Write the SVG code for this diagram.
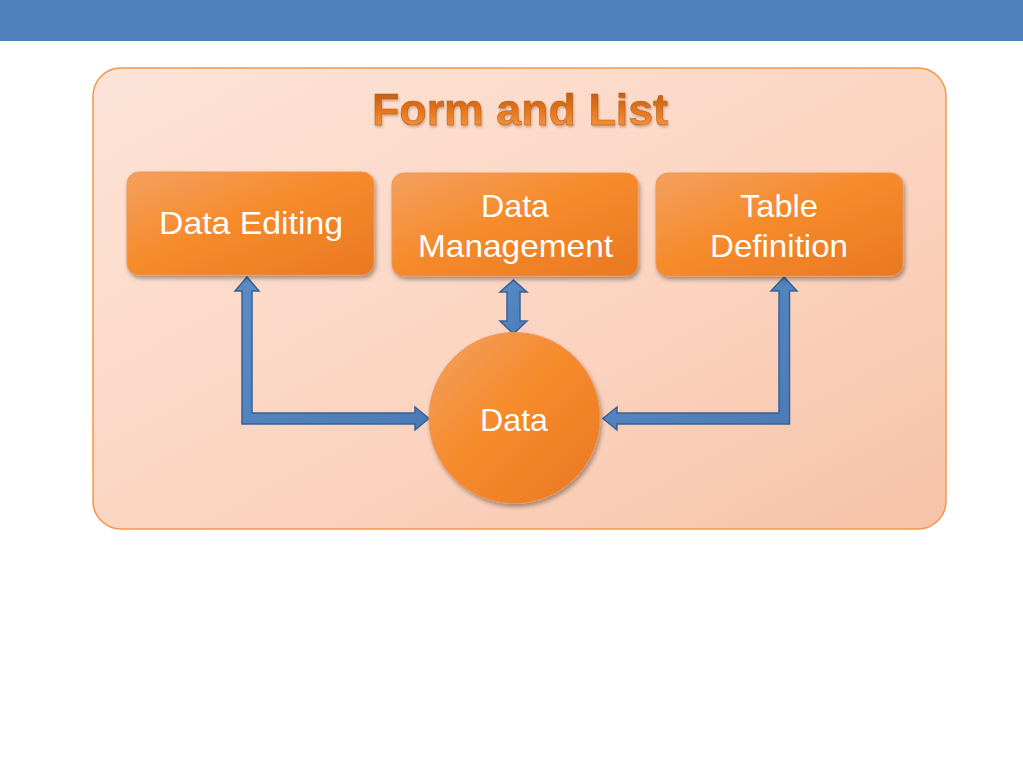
<svg xmlns="http://www.w3.org/2000/svg" width="1023" height="768" viewBox="0 0 1023 768">
  <defs>
    <linearGradient id="gPanel" x1="0" y1="0" x2="1" y2="1">
      <stop offset="0" stop-color="#fde4d8"/>
      <stop offset="0.6" stop-color="#fbd3bf"/>
      <stop offset="1" stop-color="#f7c2a7"/>
    </linearGradient>
    <linearGradient id="gNode" x1="0" y1="0" x2="1" y2="1">
      <stop offset="0" stop-color="#f3a060"/>
      <stop offset="0.45" stop-color="#f68b2c"/>
      <stop offset="1" stop-color="#e97822"/>
    </linearGradient>
    <linearGradient id="gTitle" x1="0" y1="0" x2="0" y2="1">
      <stop offset="0" stop-color="#b8520c"/>
      <stop offset="0.55" stop-color="#e7781e"/>
      <stop offset="1" stop-color="#f9a050"/>
    </linearGradient>
    <linearGradient id="gArrow" x1="0" y1="0" x2="1" y2="1">
      <stop offset="0" stop-color="#5a8cc8"/>
      <stop offset="1" stop-color="#4a7bb7"/>
    </linearGradient>
    <filter id="shadow" x="-20%" y="-20%" width="140%" height="150%">
      <feDropShadow dx="1.5" dy="3" stdDeviation="2" flood-color="#000" flood-opacity="0.35"/>
    </filter>
    <filter id="tshadow" x="-10%" y="-20%" width="120%" height="150%">
      <feDropShadow dx="1" dy="2" stdDeviation="1.2" flood-color="#7a3a08" flood-opacity="0.35"/>
    </filter>
  </defs>
  <style>
    .node { fill: url(#gNode); stroke: #ef9550; stroke-width: 1; filter: url(#shadow); }
    .lbl { font-family: "Liberation Sans", Arial, sans-serif; font-size: 32px; fill: #ffffff; text-anchor: middle; }
    .arrow { fill: url(#gArrow); stroke: #3a6194; stroke-width: 1.5; stroke-linejoin: miter; }
  </style>

  <rect id="topbar" x="0" y="0" width="1023" height="41" fill="#4f81bd"/>

  <g id="panel">
    <rect x="93" y="68" width="853" height="461" rx="28" ry="28" fill="url(#gPanel)" stroke="#f79646" stroke-width="1.5"/>
    <text x="520" y="125" text-anchor="middle" font-family="Liberation Sans, Arial, sans-serif" font-weight="bold" font-size="44" fill="url(#gTitle)" stroke="#b35a14" stroke-width="0.5" textLength="296" lengthAdjust="spacingAndGlyphs" filter="url(#tshadow)">Form and List</text>
  </g>

  <g id="connectors">
    <polygon class="arrow" points="247,277 259,291 252,291 252,413 415,413 415,407 429,418.5 415,430 415,424 242,424 242,291 235,291"/>
    <polygon class="arrow" points="513.5,280 527,292 520,292 520,321 527,321 513.5,334 500,321 507,321 507,292 500,292"/>
    <polygon class="arrow" points="784,277 797,291 789.5,291 789.5,424 617,424 617,430 603,418.5 617,407 617,413 779,413 779,291 771,291"/>
  </g>

  <g id="node-data-editing">
    <rect class="node" x="127" y="172" width="247" height="103" rx="12" ry="12"/>
    <text class="lbl" x="251" y="234" textLength="184" lengthAdjust="spacingAndGlyphs">Data Editing</text>
  </g>

  <g id="node-data-management">
    <rect class="node" x="392" y="173" width="246" height="103" rx="12" ry="12"/>
    <text class="lbl" x="515" y="217" textLength="68" lengthAdjust="spacingAndGlyphs">Data</text>
    <text class="lbl" x="515.5" y="257" textLength="195" lengthAdjust="spacingAndGlyphs">Management</text>
  </g>

  <g id="node-table-definition">
    <rect class="node" x="656" y="173" width="247" height="103" rx="12" ry="12"/>
    <text class="lbl" x="779" y="217" textLength="78" lengthAdjust="spacingAndGlyphs">Table</text>
    <text class="lbl" x="779" y="257" textLength="138" lengthAdjust="spacingAndGlyphs">Definition</text>
  </g>

  <g id="node-data">
    <circle class="node" cx="514.5" cy="418" r="85.5"/>
    <text class="lbl" x="514" y="431" textLength="68" lengthAdjust="spacingAndGlyphs">Data</text>
  </g>
</svg>
